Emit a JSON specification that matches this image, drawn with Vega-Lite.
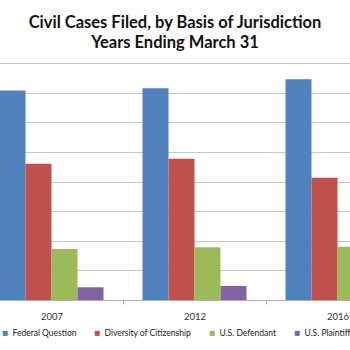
{
  "$schema": "https://vega.github.io/schema/vega-lite/v6.json",
  "autosize": {"type": "none"},
  "width": 429,
  "height": 237,
  "padding": {"left": -20, "top": 63, "right": 0, "bottom": 50},
  "background": "white",
  "title": {
    "text": ["Civil Cases Filed, by Basis of Jurisdiction", "Years Ending March 31"],
    "anchor": "middle",
    "dx": -19.5,
    "offset": 12,
    "font": "Lato",
    "fontSize": 16.5,
    "fontWeight": "bold",
    "color": "#111111",
    "lineHeight": 20
  },
  "data": {
    "values": [
      {"year": "2007", "basis": "Federal Question", "cases": 141400},
      {"year": "2007", "basis": "Diversity of Citizenship", "cases": 91900},
      {"year": "2007", "basis": "U.S. Defendant", "cases": 34500},
      {"year": "2007", "basis": "U.S. Plaintiff", "cases": 8600},
      {"year": "2012", "basis": "Federal Question", "cases": 143000},
      {"year": "2012", "basis": "Diversity of Citizenship", "cases": 95300},
      {"year": "2012", "basis": "U.S. Defendant", "cases": 35600},
      {"year": "2012", "basis": "U.S. Plaintiff", "cases": 9500},
      {"year": "2016", "basis": "Federal Question", "cases": 149100},
      {"year": "2016", "basis": "Diversity of Citizenship", "cases": 82600},
      {"year": "2016", "basis": "U.S. Defendant", "cases": 36000},
      {"year": "2016", "basis": "U.S. Plaintiff", "cases": 8000}
    ]
  },
  "mark": {"type": "bar"},
  "encoding": {
    "x": {
      "field": "year",
      "type": "nominal",
      "scale": {"paddingInner": 0, "paddingOuter": 0},
      "axis": {
        "title": null,
        "labelAngle": 0,
        "tickBand": "extent",
        "tickSize": 4,
        "tickColor": "#b0b0b0",
        "domainColor": "#b0b0b0",
        "labelFont": "Lato",
        "labelFontSize": 9.5,
        "labelColor": "#333333",
        "labelPadding": 7,
        "grid": false
      }
    },
    "xOffset": {
      "field": "basis",
      "type": "nominal",
      "sort": ["Federal Question", "Diversity of Citizenship", "U.S. Defendant", "U.S. Plaintiff"],
      "scale": {"paddingInner": 0, "paddingOuter": 0.75}
    },
    "y": {
      "field": "cases",
      "type": "quantitative",
      "scale": {"domain": [0, 160000], "nice": false},
      "axis": {
        "title": null,
        "labels": false,
        "ticks": false,
        "domain": false,
        "values": [0, 20000, 40000, 60000, 80000, 100000, 120000, 140000, 160000],
        "gridColor": "#c8c8c8",
        "gridWidth": 1
      }
    },
    "color": {
      "field": "basis",
      "type": "nominal",
      "sort": ["Federal Question", "Diversity of Citizenship", "U.S. Defendant", "U.S. Plaintiff"],
      "scale": {"range": ["#4F81BD", "#C0504D", "#9BBB59", "#8064A2"]},
      "legend": {
        "title": null,
        "orient": "none",
        "direction": "horizontal",
        "legendX": 21,
        "legendY": 266,
        "symbolType": "square",
        "symbolSize": 25,
        "symbolStrokeWidth": 0,
        "labelFont": "Lato",
        "labelFontSize": 8.5,
        "labelColor": "#222222",
        "labelOffset": 3,
        "columnPadding": 16,
        "padding": 0
      }
    }
  },
  "config": {"view": {"stroke": null}}
}
